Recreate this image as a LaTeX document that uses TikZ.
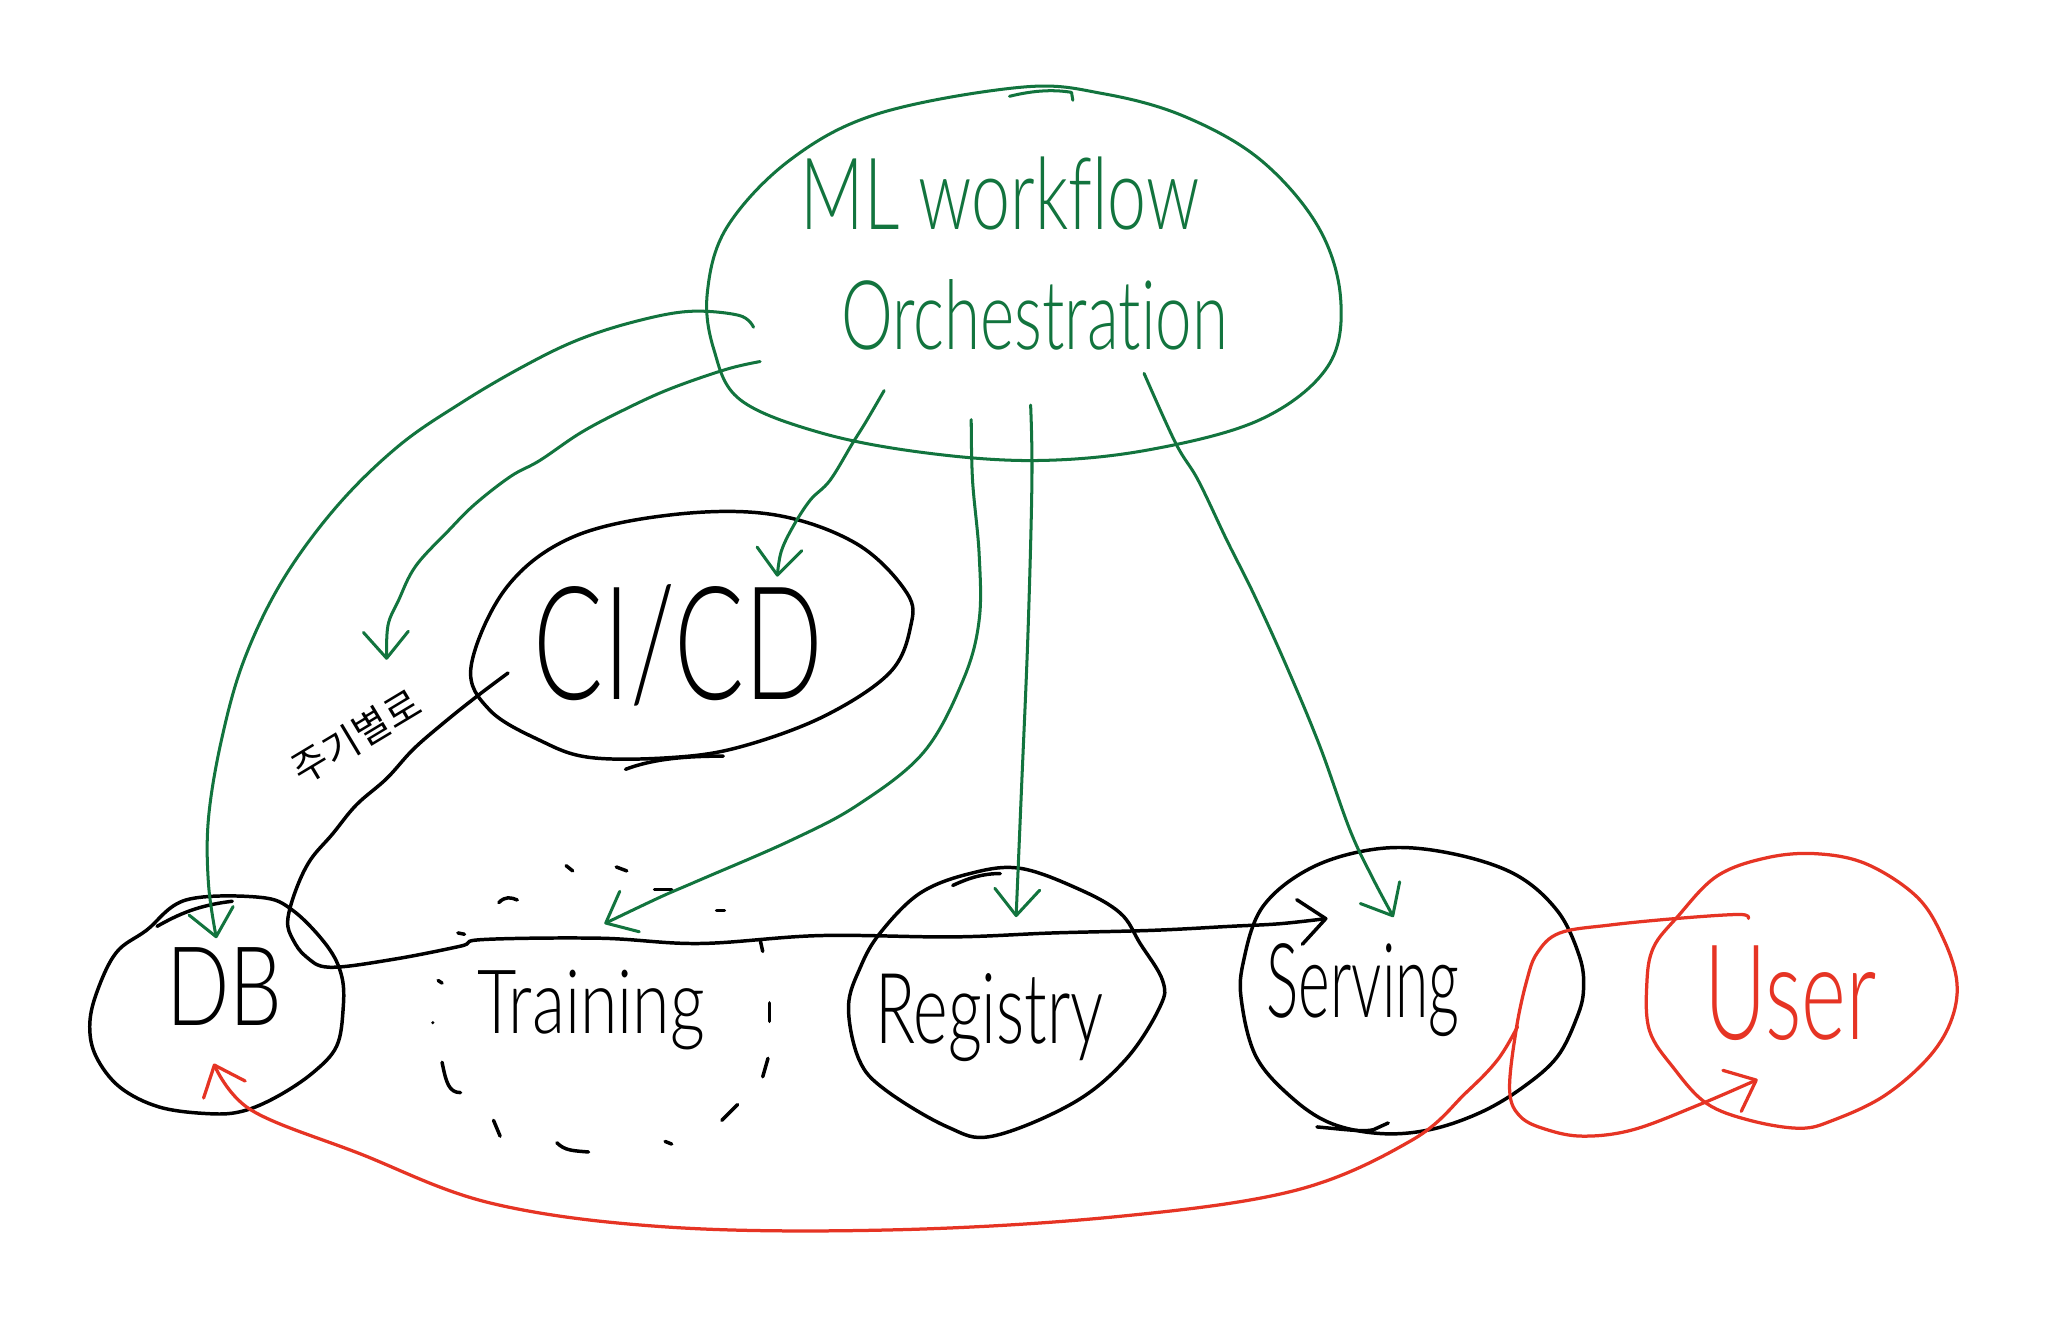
\documentclass[tikz,border=0pt]{standalone}
\usepackage{fontspec}
\usetikzlibrary{arrows.meta}
\newfontfamily\handfont{Lato Light}[Ligatures={NoCommon,NoRare}]
\newfontfamily\krfont{Noto Sans CJK KR}
\newcommand{\handtxt}[3]{\resizebox{#1cm}{#2cm}{\handfont #3}}
\definecolor{gcol}{RGB}{18,116,62}
\definecolor{rcol}{RGB}{230,52,36}
\begin{document}
\begin{tikzpicture}[x=0.01cm,y=-0.01cm,
  blk/.style={draw=black, line width=0.75pt, line cap=round, line join=round},
  grn/.style={draw=gcol, line width=0.65pt, line cap=round, line join=round},
  rln/.style={draw=rcol, line width=0.7pt, line cap=round, line join=round},
  tipb/.style={-{Straight Barb[length=2mm,width=3.4mm,round]}},
  lbl/.style={inner sep=0pt, anchor=base}]
\useasboundingbox (0,0) rectangle (1552,1016);
\fill[white] (0,0) rectangle (1552,1016);

% ---------- shapes ----------
% Orchestration (green)
\draw[grn] plot[smooth cycle, tension=0.6] coordinates {(775,66) (836,71) (897,88) (955,121) (999,172) (1016,227) (1006,278) (955,318) (870,341) (785,349) (700,343) (622,328) (561,303) (541,265) (536,222) (551,172) (599,121) (666,86)};
\draw[grn] (765,73) .. controls (785,68) and (800,68) .. (812,70) -- (813,76);
% CI/CD
\draw[blk] plot[smooth cycle, tension=0.6] coordinates {(357,505) (371,538) (409,561) (447,574) (510,574) (561,566) (624,543) (674,510) (690,475) (687,449) (649,412) (586,390) (510,390) (434,407) (384,445)};
\draw[blk] (474,583) .. controls (495,575) and (520,573) .. (548,573);
% DB
\draw[blk] plot[smooth cycle, tension=0.6] coordinates {(141,682) (197,680) (222,690) (248,717) (259,740) (260,765) (255,793) (237,813) (210,831) (184,842) (159,844) (121,839) (91,824) (73,801) (68,778) (73,753) (88,722) (111,705)};
\draw[blk] (119,702) .. controls (135,693) and (150,686) .. (176,683);
% Training (dashed, hand drawn)
\draw[blk] (378,684) .. controls (383,679) and (387,680) .. (392,682);
\draw[blk] (429,656) -- (434,660);
\draw[blk] (467,657) -- (475,660);
\draw[blk] (496,674) -- (509,674);
\draw[blk] (543,690) -- (549,690);
\draw[blk] (347,707) -- (352,708);
\draw[blk] (576,712) -- (578,721);
\draw[blk] (332,743) -- (335,745);
\fill (328,775) circle (1.3);
\draw[blk] (583,760) -- (583,774);
\draw[blk] (335,805) .. controls (338,820) and (340,828) .. (349,828);
\draw[blk] (582,802) -- (578,816);
\draw[blk] (374,849) -- (379,861);
\draw[blk] (559,837) -- (547,849);
\draw[blk] (422,866) .. controls (428,872) and (434,872) .. (446,873);
\draw[blk] (504,865) -- (509,867);
% Registry
\draw[blk] plot[smooth cycle, tension=0.6] coordinates {(667,707) (697,677) (735,662) (773,658) (818,674) (849,692) (864,715) (881,743) (879,763) (853,803) (813,836) (752,861) (718,854) (671,826) (651,803) (643,763) (652,733)};
\draw[blk] (722,671) .. controls (735,665) and (745,662) .. (758,662);
% Serving
\draw[blk] plot[smooth cycle, tension=0.6] coordinates {(957,687) (995,657) (1046,643) (1096,646) (1147,662) (1180,690) (1197,725) (1200,750) (1195,771) (1180,801) (1154,824) (1122,843) (1084,856) (1046,859) (1008,851) (978,831) (952,801) (941,760) (942,730)};
\draw[blk] (998,854) .. controls (1020,856) and (1035,858) .. (1041,856) -- (1052,851);
% User (red)
\draw[rln] plot[smooth cycle, tension=0.6] coordinates {(1271,695) (1301,664) (1339,650) (1377,647) (1415,655) (1453,680) (1473,712) (1483,745) (1478,775) (1460,803) (1427,831) (1389,849) (1364,855) (1326,849) (1293,836) (1268,809) (1250,781) (1248,745) (1253,718)};

% ---------- labels ----------
\node[lbl, text=gcol] (orchA) at (758,174) {\handtxt{3.02}{0.55}{ML workflow}};
\node[lbl, text=gcol] (orch) at (784,265) {\handtxt{2.93}{0.53}{Orchestration}};
\node[lbl] (cicd) at (514,530) {\handtxt{2.2}{0.87}{CI/CD}};
\node[lbl] (db) at (170,777) {\handtxt{0.88}{0.59}{DB}};
\node[lbl] (training) at (448,783) {\handtxt{1.72}{0.48}{Training}};
\node[lbl] (registry) at (750,791) {\handtxt{1.73}{0.53}{Registry}};
\node[lbl] (serving) at (1033,771) {\handtxt{1.46}{0.56}{Serving}};
\node[lbl, text=rcol] (user) at (1357,788) {\handtxt{1.3}{0.71}{User}};
\node[inner sep=0pt, rotate=31] (period) at (270,558) {\resizebox{1.08cm}{!}{\krfont 주기별로}};

% ---------- connector end points ----------
\coordinate (oA) at (571,248);
\coordinate (oB) at (576,274);
\coordinate (oC) at (670,296);
\coordinate (oD) at (736,318);
\coordinate (oE) at (781,307);
\coordinate (oF) at (867,283);
\coordinate (dbIn) at (164,711);
\coordinate (periodIn) at (293,500);
\coordinate (cicdIn) at (589,437);
\coordinate (trainIn) at (458,700);
\coordinate (regIn) at (770,695);
\coordinate (servIn) at (1056,695);
\coordinate (cicdOut) at (385,510);
\coordinate (dbJoin) at (222,712);
\coordinate (servArr) at (1006,696);
\coordinate (userOut) at (1325,696);
\coordinate (userIn) at (1332,818);
\coordinate (servRed) at (1150,778);
\coordinate (dbRed) at (162,806);

% ---------- green connectors ----------
\draw[grn, tipb] plot[smooth, tension=0.6] coordinates {(oA) (560,239) (522,236) (480,244) (437,258) (396,278) (350,305) (302,338) (255,384) (214,440) (185,500) (168,560) (158,620) (158,670) (dbIn)};
\draw[grn, tipb] plot[smooth, tension=0.6] coordinates {(oB) (550,280) (507,295) (472,311) (440,328) (409,349) (387,361) (360,382) (340,402) (315,429) (302,455) (294,474) (periodIn)};
\draw[grn, tipb] plot[smooth, tension=0.6] coordinates {(oC) (656,320) (646,336) (629,364) (614,379) (601,399) (592,418) (cicdIn)};
\draw[grn, tipb] plot[smooth, tension=0.6] coordinates {(oD) (737,364) (742,420) (742,470) (730,515) (700,570) (650,610) (599,637) (530,667) (500,680) (trainIn)};
\draw[grn, tipb] plot[smooth, tension=0.6] coordinates {(oE) (782,364) (779,480) (774,600) (regIn)};
\draw[grn, tipb] plot[smooth, tension=0.6] coordinates {(oF) (891,336) (908,364) (930,410) (950,450) (975,505) (1000,565) (1023,629) (1040,665) (servIn)};

% ---------- black connector: CI/CD -> DB -> Serving ----------
\draw[blk, tipb] plot[smooth, tension=0.6] coordinates {(cicdOut) (361,528) (336,548) (313,568) (293,590) (270,610) (252,632) (235,652) (224,675) (218,698) (dbJoin) (232,725) (250,733) (298,727) (349,717) (366,712) (455,711) (530,715) (621,709) (722,710) (798,707) (874,705) (932,702) (970,700) (servArr)};

% ---------- red connectors ----------
\draw[rln, tipb] plot[smooth, tension=0.6] coordinates {(userOut) (1318,693) (1271,696) (1220,701) (1182,707) (1165,722) (1157,743) (1149,780) (1144,826) (1152,846) (1172,856) (1200,861) (1238,856) (1288,837) (userIn)};
\draw[rln, tipb] plot[smooth, tension=0.6] coordinates {(servRed) (1135,803) (1111,828) (1070,864) (982,902) (846,922) (677,932) (508,930) (373,912) (272,874) (190,841) (dbRed)};
\end{tikzpicture}
\end{document}
